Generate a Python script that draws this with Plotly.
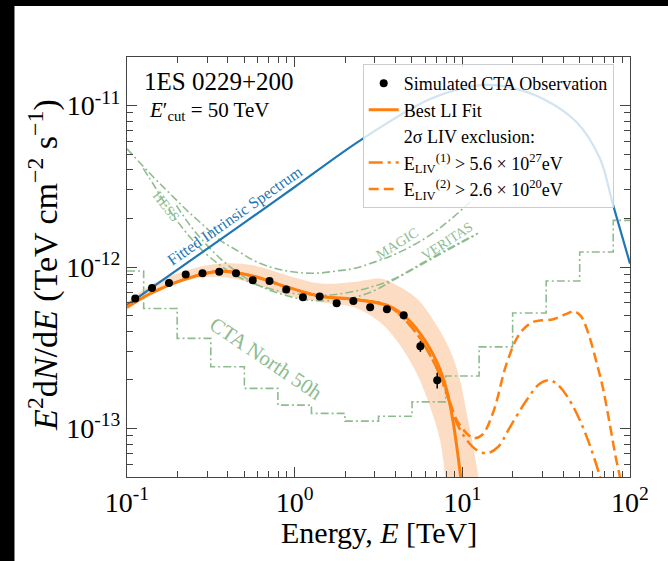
import plotly.graph_objects as go

# ---------------- data ----------------
# Simulated CTA observation of 1ES 0229+200 (TeV, TeV cm^-2 s^-1)
obs_energy = [0.112, 0.141, 0.178, 0.224, 0.282, 0.355, 0.447, 0.562, 0.708, 0.891,
              1.12, 1.41, 1.78, 2.24, 2.82, 3.55, 4.47, 5.62, 7.08]
obs_flux = [6.37e-13, 7.41e-13, 7.96e-13, 8.97e-13, 9.14e-13, 9.36e-13, 9.14e-13, 8.28e-13,
            8.19e-13, 7.25e-13, 6.50e-13, 6.56e-13, 5.97e-13, 6.16e-13, 5.63e-13, 5.47e-13,
            5.03e-13, 3.23e-13, 1.99e-13]
obs_err = [0.10e-13, 0.10e-13, 0.10e-13, 0.11e-13, 0.11e-13, 0.11e-13, 0.11e-13, 0.10e-13,
           0.10e-13, 0.10e-13, 0.10e-13, 0.10e-13, 0.10e-13, 0.11e-13, 0.11e-13, 0.12e-13,
           0.14e-13, 0.25e-13, 0.22e-13]

# Best Lorentz-invariant fit
fit_energy = [0.100, 0.144, 0.228, 0.360, 0.568, 0.899, 1.42, 2.24, 3.54, 4.45, 5.60, 7.04,
              8.07, 8.84, 9.78, 10.1]
fit_flux = [5.66e-13, 7.00e-13, 8.48e-13, 9.41e-13, 8.76e-13, 7.52e-13, 6.59e-13, 6.31e-13,
            5.80e-13, 5.03e-13, 3.88e-13, 2.585e-13, 1.727e-13, 1.075e-13, 5.03e-14, 3.87e-14]

# Uncertainty band of the fit
band_upper_energy = [0.100, 0.144, 0.228, 0.360, 0.568, 0.899, 1.42, 2.24, 3.23, 3.88, 5.35,
                     6.72, 8.45, 9.69, 10.62, 11.63, 12.46, 12.93]
band_upper_flux = [6.08e-13, 7.90e-13, 9.54e-13, 1.050e-12, 1.024e-12, 8.89e-13, 7.90e-13,
                   8.08e-13, 8.48e-13, 7.90e-13, 6.38e-13, 4.68e-13, 3.05e-13, 1.99e-13,
                   1.24e-13, 7.71e-14, 5.03e-14, 3.61e-14]
band_lower_energy = [0.100, 0.144, 0.228, 0.360, 0.568, 0.899, 1.42, 2.24, 3.23, 4.25, 5.35,
                     6.42, 7.36, 7.89, 8.00]
band_lower_flux = [5.40e-13, 6.85e-13, 8.28e-13, 8.67e-13, 7.90e-13, 6.68e-13, 6.08e-13,
                   5.63e-13, 4.55e-13, 3.28e-13, 2.19e-13, 1.362e-13, 8.48e-14, 5.03e-14,
                   3.61e-14]

# 2-sigma LIV exclusion curves
liv1_energy = [0.100, 0.144, 0.228, 0.360, 0.568, 0.899, 1.42, 2.24, 3.54, 4.45, 5.60, 7.04,
               8.07, 9.26, 10.62, 12.18, 14.03, 16.32, 19.24, 24.2, 29.04, 33.32, 38.22,
               45.86, 55.13, 66.16, 68.95]
liv1_flux = [5.66e-13, 7.00e-13, 8.48e-13, 9.41e-13, 8.76e-13, 7.52e-13, 6.59e-13, 6.31e-13,
             5.80e-13, 4.82e-13, 3.62e-13, 2.36e-13, 1.632e-13, 1.08e-13, 8.48e-14, 7.35e-14,
             7.02e-14, 7.67e-14, 1.02e-13, 1.498e-13, 1.90e-13, 1.99e-13, 1.81e-13,
             1.362e-13, 8.89e-14, 5.03e-14, 4.16e-14]
liv2_energy = [0.100, 0.144, 0.228, 0.360, 0.568, 0.899, 1.42, 2.24, 3.54, 4.45, 5.60, 7.04,
               8.07, 9.26, 10.62, 11.63, 13.11, 15.30, 18.39, 22.08, 26.50, 34.86, 41.50,
               46.32, 50.98, 56.12, 62.63, 68.95, 75.9, 82.4, 87.0, 89.5]
liv2_flux = [5.66e-13, 7.00e-13, 8.48e-13, 9.41e-13, 8.76e-13, 7.52e-13, 6.59e-13, 6.31e-13,
             5.80e-13, 4.82e-13, 3.62e-13, 2.36e-13, 1.68e-13, 1.127e-13, 9.33e-14, 8.69e-14,
             9.10e-14, 1.263e-13, 2.53e-13, 3.89e-13, 4.57e-13, 4.75e-13, 5.10e-13, 5.32e-13,
             4.96e-13, 3.95e-13, 2.65e-13, 1.78e-13, 1.05e-13, 6.56e-14, 5.0e-14, 3.87e-14]

# Fitted intrinsic spectrum
intrinsic_energy = [0.100, 0.473, 1.00, 2.45, 6.14, 9.69, 13.96, 19.2, 30.4, 48.1, 66.2,
                    79.4, 100.0]
intrinsic_flux = [5.80e-13, 1.805e-12, 3.13e-12, 6.07e-12, 1.074e-11, 1.27e-11, 1.343e-11,
                  1.297e-11, 1.10e-11, 7.89e-12, 4.70e-12, 2.41e-12, 1.05e-12]

# Instrument sensitivities
magic_energy = [0.100, 0.144, 0.181, 0.228, 0.286, 0.360, 0.452, 0.568, 0.715, 0.899, 1.13,
                1.42, 1.78, 2.24, 2.82, 3.54, 4.45, 5.60, 7.04, 8.84, 11.1, 13.1]
magic_flux = [5.40e-12, 3.60e-12, 2.84e-12, 2.24e-12, 1.81e-12, 1.463e-12, 1.268e-12,
              1.10e-12, 1.00e-12, 9.45e-13, 9.18e-13, 9.18e-13, 9.45e-13, 9.77e-13,
              1.050e-12, 1.143e-12, 1.268e-12, 1.442e-12, 1.686e-12, 2.04e-12, 2.52e-12,
              2.98e-12]
hess_energy = [0.125, 0.1475, 0.171, 0.202, 0.238, 0.285, 0.360, 0.454, 0.582, 0.765, 1.08,
               1.52, 2.14, 2.82, 3.86, 5.60, 8.11, 12.4]
hess_flux = [4.08e-12, 3.11e-12, 2.41e-12, 1.89e-12, 1.527e-12, 1.251e-12, 1.024e-12,
             8.76e-13, 7.82e-13, 7.18e-13, 6.78e-13, 6.68e-13, 6.98e-13, 7.49e-13, 8.39e-13,
             1.039e-12, 1.287e-12, 1.617e-12]
veritas_energy = [0.197, 0.238, 0.293, 0.370, 0.473, 0.623, 0.878, 1.24, 1.74, 2.29, 3.02,
                  3.86, 5.60, 8.11, 12.2]
veritas_flux = [2.41e-12, 1.81e-12, 1.401e-12, 1.10e-12, 9.01e-13, 7.60e-13, 6.68e-13,
                6.22e-13, 6.22e-13, 6.50e-13, 7.18e-13, 8.28e-13, 1.024e-12, 1.268e-12,
                1.594e-12]
cta_energy = [0.100, 0.158, 0.251, 0.398, 0.631, 1.00, 1.585, 2.512, 3.981, 6.310, 10.00,
              15.85, 25.12, 39.81, 63.10, 100.0]
cta_flux = [9.45e-13, 5.53e-13, 3.61e-13, 2.41e-13, 1.77e-13, 1.395e-13, 1.24e-13, 1.11e-13,
            1.19e-13, 1.46e-13, 2.11e-13, 3.20e-13, 5.19e-13, 8.19e-13, 1.238e-12, 1.945e-12]

x_tick_labels = ["10<sup>-1</sup>", "10<sup>0</sup>", "10<sup>1</sup>", "10<sup>2</sup>"]
y_tick_labels = ["10<sup>-13</sup>", "10<sup>-12</sup>", "10<sup>-11</sup>"]

# ---------------- styling ----------------
FONT = "Liberation Serif"
ORANGE = "#ff7f0e"
BLUE = "#1f77b4"
GREEN = "#8fbc8f"
BAND = "#fddcc4"
AXIS = "#444444"
GREEN_DASH = "8px,3px,2px,3px"

fig = go.Figure()

# uncertainty band
fig.add_trace(go.Scatter(x=band_lower_energy, y=band_lower_flux, mode="lines",
                         line=dict(width=0, shape="spline"), showlegend=False,
                         hoverinfo="skip"))
fig.add_trace(go.Scatter(x=band_upper_energy, y=band_upper_flux, mode="lines",
                         line=dict(width=0, shape="spline"), fill="tonexty",
                         fillcolor=BAND, showlegend=False, hoverinfo="skip"))

# sensitivity curves
for e, f in [(magic_energy, magic_flux), (hess_energy, hess_flux),
             (veritas_energy, veritas_flux)]:
    fig.add_trace(go.Scatter(x=e, y=f, mode="lines", showlegend=False,
                             line=dict(color=GREEN, width=1.6, dash=GREEN_DASH,
                                       shape="spline")))
fig.add_trace(go.Scatter(x=cta_energy, y=cta_flux, mode="lines", showlegend=False,
                         line=dict(color=GREEN, width=1.6, dash=GREEN_DASH, shape="hvh")))

# intrinsic spectrum
fig.add_trace(go.Scatter(x=intrinsic_energy, y=intrinsic_flux, mode="lines",
                         showlegend=False,
                         line=dict(color=BLUE, width=2.2, shape="spline")))

# LIV exclusion curves
fig.add_trace(go.Scatter(x=liv1_energy, y=liv1_flux, mode="lines", legendrank=4,
                         name="E<sub>LIV</sub><sup>(1)</sup> > 5.6 × 10<sup>27</sup>eV",
                         line=dict(color=ORANGE, width=2.5, dash="14px,5px,3px,5px",
                                   shape="spline")))
fig.add_trace(go.Scatter(x=liv2_energy, y=liv2_flux, mode="lines", legendrank=5,
                         name="E<sub>LIV</sub><sup>(2)</sup> > 2.6 × 10<sup>20</sup>eV",
                         line=dict(color=ORANGE, width=2.5, dash="10px,5px",
                                   shape="spline")))

# best LI fit
fig.add_trace(go.Scatter(x=fit_energy, y=fit_flux, mode="lines", legendrank=2,
                         name="Best LI Fit",
                         line=dict(color=ORANGE, width=3, shape="spline")))

# legend heading
fig.add_trace(go.Scatter(x=[None], y=[None], mode="lines", legendrank=3,
                         name="2σ LIV exclusion:", line=dict(width=0)))

# simulated observation
fig.add_trace(go.Scatter(x=obs_energy, y=obs_flux, mode="markers", legendrank=1,
                         name="Simulated CTA Observation",
                         marker=dict(color="black", size=8),
                         error_y=dict(type="data", array=obs_err, color="black",
                                      thickness=1.5, width=0)))

green_font = dict(family=FONT, size=14, color=GREEN)
annotations = [
    dict(text="1ES 0229+200", xref="paper", yref="paper", x=0.029, y=0.941,
         xanchor="left", yanchor="middle", showarrow=False,
         font=dict(family=FONT, size=25, color="black")),
    dict(text="<i>E</i>′<sub>cut</sub> = 50 TeV", xref="paper", yref="paper",
         x=0.039, y=0.871, xanchor="left", yanchor="middle", showarrow=False,
         font=dict(family=FONT, size=21, color="black")),
    dict(text="Fitted Intrinsic Spectrum", x=-0.355, y=-11.685, textangle=-35,
         showarrow=False, font=dict(family=FONT, size=16, color=BLUE)),
    dict(text="HESS", x=-0.766, y=-11.625, textangle=52, showarrow=False,
         font=green_font),
    dict(text="MAGIC", x=0.614, y=-11.857, textangle=-32, showarrow=False,
         font=green_font),
    dict(text="VERITAS", x=0.907, y=-11.840, textangle=-33, showarrow=False,
         font=green_font),
    dict(text="CTA North 50h", x=-0.166, y=-12.567, textangle=34, showarrow=False,
         font=dict(family=FONT, size=21, color=GREEN)),
    dict(text="Energy, <i>E</i> [TeV]", xref="paper", yref="paper", x=0.5,
         y=-0.131, xanchor="center", yanchor="middle", showarrow=False,
         font=dict(family=FONT, size=30, color="black")),
    dict(text="<i>E</i><sup>2</sup>d<i>N</i>/d<i>E</i> (TeV cm<sup>−2</sup> s<sup>−1</sup>)",
         xref="paper", yref="paper", x=-0.165, y=0.505, textangle=-90,
         xanchor="center", yanchor="middle", showarrow=False,
         font=dict(family=FONT, size=34, color="black")),
]

# dark border strips along the left and top of the canvas
shapes = [
    dict(type="rect", xref="paper", yref="paper", x0=-0.3, x1=-0.2237, y0=-0.3, y1=1.2,
         fillcolor="black", line=dict(width=0), layer="above"),
    dict(type="rect", xref="paper", yref="paper", x0=-0.3, x1=1.2, y0=1.1214, y1=1.2,
         fillcolor="black", line=dict(width=0), layer="above"),
]

x_minor = [m * 10 ** d for d in (-1, 0, 1) for m in range(2, 10)]
y_minor = [m * 10.0 ** d for d in (-14, -13, -12, -11) for m in range(2, 10)]

fig.update_xaxes(type="log", range=[-1, 2], showline=True, linecolor=AXIS, linewidth=1.3,
                 mirror="ticks", ticks="inside", ticklen=10, tickwidth=1.2,
                 tickcolor=AXIS, tickvals=[0.1, 1, 10, 100], ticktext=x_tick_labels,
                 tickfont=dict(family=FONT, size=28, color="black"),
                 showgrid=False, zeroline=False,
                 minor=dict(ticks="inside", ticklen=6, tickwidth=1, tickcolor=AXIS,
                            tickvals=x_minor, showgrid=False))
fig.update_yaxes(type="log", range=[-13.301, -10.699], showline=True, linecolor=AXIS,
                 linewidth=1.3, mirror="ticks", ticks="inside", ticklen=10,
                 tickwidth=1.2, tickcolor=AXIS, tickvals=[1e-13, 1e-12, 1e-11],
                 ticktext=y_tick_labels,
                 tickfont=dict(family=FONT, size=28, color="black"),
                 showgrid=False, zeroline=False,
                 minor=dict(ticks="inside", ticklen=6, tickwidth=1, tickcolor=AXIS,
                            tickvals=y_minor, showgrid=False))

fig.update_layout(
    width=668, height=561,
    margin=dict(l=127, r=38, t=57, b=84),
    paper_bgcolor="white", plot_bgcolor="white",
    font=dict(family=FONT, color="black"),
    annotations=annotations, shapes=shapes,
    legend=dict(x=0.4686, y=0.983, xanchor="left", yanchor="top", traceorder="normal",
                bgcolor="rgba(255,255,255,0.8)", bordercolor="#cccccc", borderwidth=1,
                font=dict(family=FONT, size=18, color="black"), tracegroupgap=0),
)

fig.write_html("out.html")
